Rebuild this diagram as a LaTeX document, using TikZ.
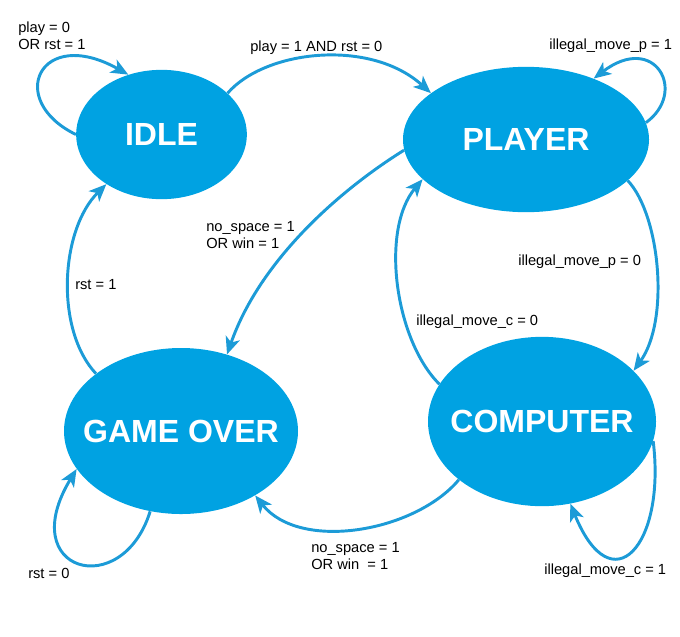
\documentclass[tikz,border=0pt]{standalone}
\usepackage{fontspec}
\setmainfont{Liberation Sans}
\usetikzlibrary{arrows.meta,shapes.geometric}
\definecolor{statefill}{HTML}{00A2E2}
\definecolor{edgeblue}{HTML}{1C9BD7}
\tikzset{
  state/.style    = {ellipse,fill=statefill,inner sep=0pt},
  statelbl/.style = {text=white,font=\fontsize{24}{28}\selectfont\bfseries},
  trans/.style    = {-{Stealth[length=13pt,width=11pt,inset=3.5pt]},
                     line width=2.2pt,draw=edgeblue},
  cond/.style     = {font=\fontsize{11}{12.75}\selectfont,align=left,
                     inner sep=0pt,anchor=base west},
}

\begin{document}
\begin{tikzpicture}[x=0.75pt,y=-0.75pt]
  \useasboundingbox (0,0) rectangle (680,636);

  % States
  \node[state,minimum width=128pt,minimum height=97pt,
        label={[statelbl]center:IDLE}] (idle) at (161.5,134.5) {};
  \node[state,minimum width=184.5pt,minimum height=109pt,
        label={[statelbl]center:PLAYER}] (player) at (526,139.5) {};
  \node[state,minimum width=175.5pt,minimum height=124.5pt,
        label={[statelbl]center:GAME OVER}] (gameover) at (181,431) {};
  \node[state,minimum width=171pt,minimum height=127pt,
        label={[statelbl]center:COMPUTER}] (computer) at (542,421.5) {};

  % Transitions
  \draw[trans] (idle.180) .. controls (5,100) and (40,25) .. (idle.119);
  \draw[trans] (idle.32) .. controls (265,50) and (370,38) .. (player.154);
  \draw[trans] (player.8) .. controls (688,92) and (655,32) .. (player.42);
  \draw[trans] (player.185) .. controls (340,190) and (260,260) .. (gameover.59);
  \draw[trans] (player.338) .. controls (660,215) and (670,320) .. (computer.29);
  \draw[trans] (computer.160) .. controls (395,340) and (380,230) .. (player.201);
  \draw[trans] (computer.215) .. controls (415,532) and (300,552) .. (gameover.319);
  \draw[trans] (gameover.146) .. controls (55,330) and (60,230) .. (idle.222);
  \draw[trans] (gameover.249) .. controls (122,602) and (14,572) .. (gameover.200);
  \draw[trans] (computer.350) .. controls (666,545) and (612,606) .. (computer.289);

  % Conditions
  \node[cond] (cidle)  at (18,49)   {play = 0\\OR rst = 1};
  \node[cond] (cip)    at (250,51)  {play = 1 AND rst = 0};
  \node[cond] (cpp)    at (549,49)  {illegal\_move\_p = 1};
  \node[cond] (cpgo)   at (206,248) {no\_space = 1\\OR win = 1};
  \node[cond] (cpc)    at (518,265) {illegal\_move\_p = 0};
  \node[cond] (ccp)    at (416,325) {illegal\_move\_c = 0};
  \node[cond] (cgoi)   at (75,289)  {rst = 1};
  \node[cond] (cgogo)  at (28,578)  {rst = 0};
  \node[cond] (ccgo)   at (311,569) {no\_space = 1\\OR win\ \ = 1};
  \node[cond] (ccc)    at (544,574) {illegal\_move\_c = 1};
\end{tikzpicture}
\end{document}
